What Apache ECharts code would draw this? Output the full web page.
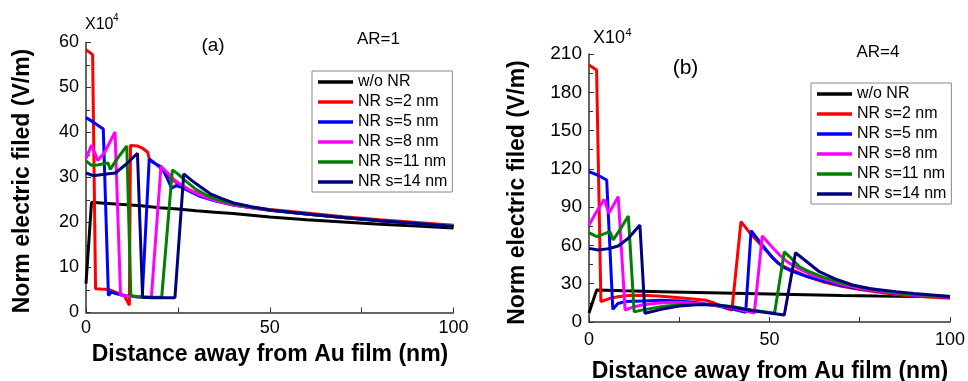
<!DOCTYPE html>
<html><head><meta charset="utf-8">
<script src="https://cdn.jsdelivr.net/npm/echarts@6/dist/echarts.min.js"></script>
<style>html,body{margin:0;padding:0;background:#fff}#c{width:968px;height:381px}</style>
</head><body><div id="c"></div>
<script>
// ---- data (field in units of 1e4 V/m, distance in nm) ----
var seriesNames = ['w/o NR','NR s=2 nm','NR s=5 nm','NR s=8 nm','NR s=11 nm','NR s=14 nm'];
var seriesColors = ['#000000','#ff0000','#0000ff','#ff00ff','#008000','#000080'];

// Panel (a) AR=1
var aBlack = [[0,6.4],[1.5,24.5],[5,24.3],[10,24.0],[15,23.7],[20,23.3],[25,23.0],[30,22.6],[35,22.3],[40,22.0],[45,21.6],[50,21.2],[60,20.6],[70,20.1],[80,19.6],[90,19.2],[100,18.8]];
var aRed = [[0,58.4],[1.8,57.3],[2.6,5.3],[4,5.2],[6.3,5.1],[8,4.5],[10.4,3.8],[11.8,1.6],[12.1,37.1],[14,37.0],[15.2,36.6],[16.8,35.6],[17.3,33.8],[19,33.0],[21,31.5],[23,29.8],[25,28.6],[28,27.3],[31,26.2],[35,25.0],[40,24.0],[45,23.4],[50,22.9],[60,22.1],[70,21.3],[80,20.6],[90,20.0],[100,19.4]];
var aBlue = [[0,43.3],[2,42.3],[4.7,40.8],[6.1,3.8],[7,4.6],[8,4.2],[10,3.8],[12,3.6],[15.3,3.4],[17.2,34.1],[19,33.0],[20.6,32.3],[22,30.0],[23.3,27.6],[24.5,28.2],[26,27.8],[28,27.0],[31,25.8],[35,24.8],[40,23.9],[45,23.3],[50,22.7],[60,21.9],[70,21.1],[80,20.4],[90,19.8],[100,19.2]];
var aMagenta = [[0,34.2],[1.5,37.2],[3.2,33.8],[5,35.5],[7.9,40.1],[9.4,3.9],[11,3.6],[14,3.5],[17.8,3.4],[20.4,32.5],[22,31.2],[24,29.5],[26,28.3],[28,27.3],[31,26.1],[35,24.9],[40,23.9],[45,23.3],[50,22.7],[60,21.9],[70,21.1],[80,20.4],[90,19.8],[100,19.2]];
var aGreen = [[0,33.7],[1.5,32.7],[3,32.8],[6,33.2],[6.6,31.8],[8.5,34.2],[11.1,37.0],[12.2,3.8],[14,3.5],[17,3.4],[20.6,3.4],[23.5,31.7],[25,30.8],[27,29.3],[30,27.3],[33,26.0],[36,25.0],[40,24.1],[45,23.4],[50,22.8],[60,21.9],[70,21.1],[80,20.4],[90,19.8],[100,19.2]];
var aNavy = [[0,31.0],[2,30.4],[5,30.7],[8,31.0],[11,33.0],[14,35.4],[15.4,3.4],[18,3.3],[21,3.3],[24.2,3.3],[26.6,30.8],[29,29.2],[31,28.0],[34,26.3],[37,25.3],[40,24.4],[45,23.5],[50,22.8],[60,21.9],[70,21.1],[80,20.4],[90,19.8],[100,19.1]];

// Panel (b) AR=4
var bBlack = [[0,7],[2.1,25],[10,24.4],[20,23.8],[30,23.2],[40,22.6],[50,22],[60,21.4],[70,20.8],[80,20.3],[90,19.9],[100,19.5]];
var bRed = [[0,201.4],[2.1,197.5],[3.3,15.9],[5.8,18.5],[8,19.8],[11,20.8],[15,21.0],[20,20.2],[25,19.0],[32.5,17.0],[35,14.5],[38,10.7],[39.6,9.4],[42.1,78.6],[44.5,70],[47.2,61.7],[50,53],[52.3,46],[55,42],[57.4,39.4],[61,35],[64.7,31.6],[70,28],[75,25.5],[80,23.5],[85,21.5],[90,20.3],[100,18.6]];
var bBlue = [[0,117.8],[2.5,115],[4.9,111.3],[6.6,9.9],[8,14.5],[10,16],[15,16.5],[20,17],[25,16.5],[30,15],[35,13],[40,10],[43.4,7.6],[44.9,71.6],[47,64],[49.1,56.4],[51,50],[53.6,43.3],[56,40],[60,36],[65,32],[70,28.5],[75,26],[80,24],[85,22.3],[90,21],[100,19.3]];
var bMagenta = [[0,76],[2,86],[4.2,96.1],[5.5,85.2],[8.1,98.2],[10,9.4],[12,11.5],[15,13.5],[20,15],[25,15.2],[30,14.5],[35,13],[40,11],[45.8,7],[48,67.4],[50,61],[52.8,52.5],[55,47],[58,42],[62,36.5],[66,33],[70,29.5],[75,26.5],[80,24.3],[85,22.5],[90,21.2],[100,19.5]];
var bGreen = [[0,70],[2.1,66.9],[5.8,70.8],[6.7,64.3],[8.5,72],[10.9,83],[12.5,8.1],[15,9.5],[20,12],[25,13.5],[30,14],[35,13.5],[40,12],[45,9.5],[51.4,6.8],[54.1,55],[56,50],[58.3,43.3],[61,39.5],[65,35],[70,30.5],[75,27.5],[80,25],[85,23],[90,21.6],[100,20]];
var bNavy = [[0,57.7],[2.6,56.4],[5.5,57.5],[8.1,59.6],[10.9,65.6],[14.1,76],[15.5,6.8],[18,8.5],[20,10],[25,12.5],[30,13.5],[35,13.5],[40,11.5],[45,9],[50,7],[54.1,5.5],[57.2,54.3],[60,48],[63.8,39.4],[68,34],[73,29],[78,26],[85,23.8],[90,22.3],[100,20]];

var panelA = [aBlack, aRed, aBlue, aMagenta, aGreen, aNavy];
var panelB = [bBlack, bRed, bBlue, bMagenta, bGreen, bNavy];

var xMin = 0, xMax = 100, xInterval = 50;
var yMaxA = 60, yIntervalA = 10;
var yMaxB = 210, yIntervalB = 30;

var xTitle = 'Distance away from Au film (nm)';
var yTitle = 'Norm electric filed (V/m)';

// ---- chart ----
var FONT = '"Liberation Sans", Arial, sans-serif';
var chart = echarts.init(document.getElementById('c'), null, {renderer: 'canvas'});

function xAxisCfg(gi, lblSize, margin) {
  return {
    type: 'value', gridIndex: gi, min: xMin, max: xMax, interval: xInterval,
    axisLine: {show: true, lineStyle: {color: '#333', width: 1.5}},
    axisTick: {show: true, inside: true, length: 5, lineStyle: {color: '#333', width: 1}},
    minorTick: {show: true, splitNumber: 2, length: 5, lineStyle: {color: '#333', width: 1}},
    splitLine: {show: false},
    axisLabel: {color: '#000', fontSize: lblSize, fontFamily: FONT, margin: margin}
  };
}
function yAxisCfg(gi, max, interval, lblSize) {
  return {
    type: 'value', gridIndex: gi, min: 0, max: max, interval: interval,
    axisLine: {show: true, lineStyle: {color: '#333', width: 1.5}},
    axisTick: {show: true, inside: true, length: 5, lineStyle: {color: '#333', width: 1}},
    minorTick: {show: true, splitNumber: 2, length: 4, lineStyle: {color: '#333', width: 1}},
    splitLine: {show: false},
    axisLabel: {color: '#000', fontSize: lblSize, fontFamily: FONT, margin: 7}
  };
}

var series = [];
[panelA, panelB].forEach(function (panel, gi) {
  panel.forEach(function (d, i) {
    series.push({
      type: 'line', name: seriesNames[i], xAxisIndex: gi, yAxisIndex: gi,
      data: d, showSymbol: false, symbol: 'none', animation: false,
      lineStyle: {color: seriesColors[i], width: 3},
      itemStyle: {color: seriesColors[i]}
    });
  });
});

function legendCfg(left, top) {
  return {
    left: left, top: top, orient: 'vertical',
    data: seriesNames,
    icon: 'rect',
    itemWidth: 35, itemHeight: 3.5, itemGap: 4,
    padding: [3, 5, 2, 6],
    borderColor: '#888', borderWidth: 1, backgroundColor: '#fff',
    textStyle: {color: '#000', fontSize: 16, fontFamily: FONT, lineHeight: 16},
    selectedMode: false
  };
}

function txt(x, y, s, size, opts) {
  opts = opts || {};
  return {
    type: 'text', x: x, y: y, rotation: opts.rot || 0,
    style: {text: s, fill: '#000', fontSize: size, fontFamily: FONT,
      fontWeight: opts.bold ? 'bold' : 'normal',
      align: opts.align || 'center', verticalAlign: 'middle'}
  };
}

chart.setOption({
  backgroundColor: '#fff',
  animation: false,
  grid: [
    {left: 86, right: 514.5, top: 42.5, bottom: 68.5},
    {left: 589, right: 17, top: 54, bottom: 59}
  ],
  xAxis: [xAxisCfg(0, 18, 7), xAxisCfg(1, 18, 9)],
  yAxis: [yAxisCfg(0, yMaxA, yIntervalA, 18), yAxisCfg(1, yMaxB, yIntervalB, 19)],
  legend: [legendCfg(312, 71), legendCfg(811, 83)],
  series: series,
  graphic: [
    txt(270, 355, xTitle, 23, {bold: true}),
    txt(770, 371.5, xTitle, 23, {bold: true}),
    txt(23, 181, yTitle, 23, {bold: true, rot: Math.PI / 2}),
    txt(518, 192.5, yTitle, 23, {bold: true, rot: Math.PI / 2}),
    txt(85, 25, 'X10', 16, {align: 'left'}),
    txt(113, 18.5, '4', 10, {align: 'left'}),
    txt(593, 38, 'X10', 18, {align: 'left'}),
    txt(625.5, 33, '4', 11, {align: 'left'}),
    txt(213, 46, '(a)', 19),
    txt(378.5, 39, 'AR=1', 17),
    txt(685.5, 68, '(b)', 21),
    txt(878, 52.5, 'AR=4', 17)
  ]
});
</script>
</body></html>
